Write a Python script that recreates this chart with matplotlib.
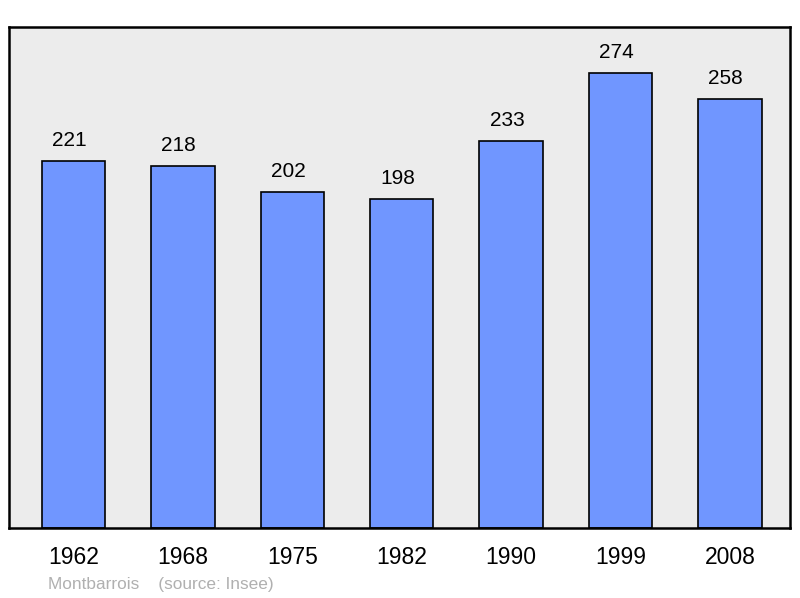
import matplotlib.pyplot as plt
import numpy as np

years = ['1962', '1968', '1975', '1982', '1990', '1999', '2008']
population = [221, 218, 202, 198, 233, 274, 258]

plt.rcParams['font.family'] = ['Liberation Sans', 'DejaVu Sans']

fig = plt.figure(figsize=(8, 5.98), dpi=100)
ax = fig.add_axes([9/800, 70/598, 781/800, 501/598])
ax.set_facecolor('#ececec')

x = np.arange(len(years))
ax.bar(x, population, width=0.58, color='#7096ff', edgecolor='black', linewidth=1.2, zorder=2)
for xi, v in zip(x, population):
    ax.annotate(str(v), xy=(xi, v), xytext=(-3, 8), textcoords='offset points',
                ha='center', va='bottom', fontsize=15)

ax.set_xlim(-0.59, 6.55)
ax.set_ylim(0, 301.6)
ax.set_yticks([])
ax.set_xticks(x)
ax.set_xticklabels(years, fontsize=16.5)
ax.tick_params(axis='x', length=0, pad=13)
for s in ax.spines.values():
    s.set_linewidth(1.8)

fig.text(48/800, 1 - 585/598, 'Montbarrois    (source: Insee)', color='#b0b0b0',
         fontsize=12.4, va='center', ha='left')

fig.savefig('out.png', dpi=100)
